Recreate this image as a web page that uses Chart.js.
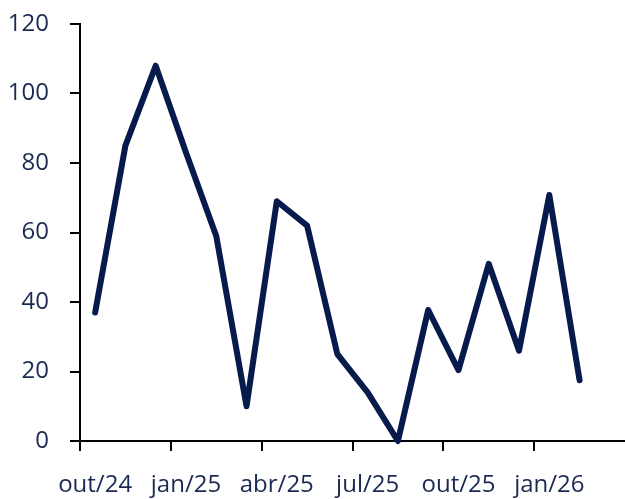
<!DOCTYPE html>
<html>
<head>
<meta charset="utf-8">
<script src="https://cdn.jsdelivr.net/npm/chart.js@4/dist/chart.umd.min.js"></script>
<style>
  html, body { margin: 0; padding: 0; background: #ffffff; }
  #wrap { width: 625px; height: 499px; }
</style>
</head>
<body>
<div id="wrap"><canvas id="chart"></canvas></div>
<script>
// monthly categories, oct/24 .. mar/26 (last month has no value yet)
var months = ['out/24','nov/24','dez/24','jan/25','fev/25','mar/25','abr/25','mai/25','jun/25',
              'jul/25','ago/25','set/25','out/25','nov/25','dez/25','jan/26','fev/26','mar/26'];
var values = [37, 85, 108, 83, 59, 10, 69, 62, 25, 14, 0, 37.7, 20.4, 51, 26, 70.8, 17.5, null];
var yTicks = [0, 20, 40, 60, 80, 100, 120];

var navy = '#061a4b';
var textColor = '#1b2a52';

function initChart(){
    var ctx = document.getElementById('chart').getContext('2d');
    new Chart(ctx, {
        type: 'line',
        data: {
            labels: months,
            datasets: [{
                data: values,
                borderColor: navy,
                borderWidth: 6,
                borderCapStyle: 'round',
                borderJoinStyle: 'round',
                pointRadius: 0,
                tension: 0,
                clip: 6,
                spanGaps: false
            }]
        },
        options: {
            responsive: true,
            maintainAspectRatio: false,
            animation: false,
            layout: { padding: { top: 24, right: 0, left: 0, bottom: 0 } },
            plugins: { legend: { display: false }, tooltip: { enabled: false } },
            scales: {
                x: {
                    offset: true,
                    grid: {
                        offset: true,
                        drawOnChartArea: false,
                        tickLength: 10,
                        lineWidth: 2,
                        tickColor: function(c){ return c.index % 3 === 0 ? '#000' : 'rgba(0,0,0,0)'; }
                    },
                    border: { color: '#000', width: 2 },
                    ticks: {
                        autoSkip: false,
                        maxRotation: 0,
                        padding: 20,
                        color: textColor,
                        font: { family: 'Open Sans', size: 24 },
                        // one label per quarter, under its first month
                        callback: function(v, i){ return i % 3 === 0 ? months[i] : ''; }
                    },
                    afterFit: function(axis){ axis.height = 58; axis.paddingLeft = 0; axis.paddingRight = 0; }
                },
                y: {
                    min: 0,
                    max: 120,
                    afterBuildTicks: function(axis){ axis.ticks = yTicks.map(function(v){ return { value: v }; }); },
                    grid: { drawOnChartArea: false, tickLength: 10, lineWidth: 2, tickColor: '#000' },
                    border: { color: '#000', width: 2 },
                    ticks: {
                        padding: 21,
                        color: textColor,
                        font: { family: 'Open Sans', size: 24 }
                    },
                    afterFit: function(axis){ axis.width = 80; axis.paddingTop = 0; axis.paddingBottom = 0; }
                }
            }
        }
    });
}
document.addEventListener('DOMContentLoaded', initChart);
</script>
</body>
</html>
